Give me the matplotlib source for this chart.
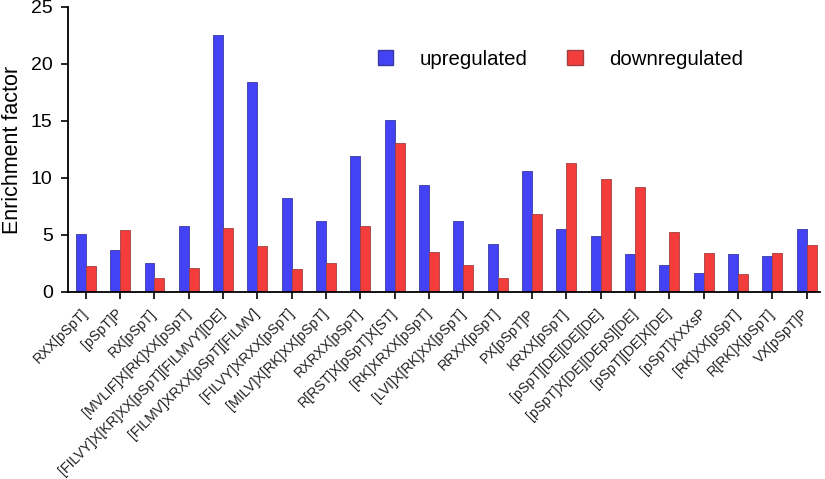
import matplotlib
matplotlib.use("Agg")
import matplotlib.pyplot as plt
import numpy as np
from matplotlib.patches import Patch

plt.rcParams['font.family'] = ['Liberation Sans', 'DejaVu Sans']

categories = [
    "RXX[pSpT]", "[pSpT]P", "RX[pSpT]", "[MVLIF]X[RK]XX[pSpT]",
    "[FILVY]X[KR]XX[pSpT][FILMVY][DE]", "[FILMV]XRXX[pSpT][FILMV]",
    "[FILVY]XRXX[pSpT]", "[MILV]X[RK]XX[pSpT]", "RXRXX[pSpT]",
    "R[RST]X[pSpT]X[ST]", "[RK]XRXX[pSpT]", "[LVI]X[RK]XX[pSpT]",
    "RRXX[pSpT]", "PX[pSpT]P", "KRXX[pSpT]", "[pSpT][DE][DE][DE]",
    "[pSpT]X[DE][DEpS][DE]", "[pSpT][DE]X[DE]", "[pSpT]XXXsP",
    "[RK]XX[pSpT]", "R[RK]X[pSpT]", "VX[pSpT]P",
]
upregulated = [5.1, 3.7, 2.5, 5.8, 22.5, 18.4, 8.25, 6.2, 11.9, 15.05, 9.35,
               6.2, 4.2, 10.6, 5.55, 4.9, 3.3, 2.35, 1.65, 3.35, 3.2, 5.5]
downregulated = [2.3, 5.45, 1.2, 2.1, 5.6, 4.0, 2.0, 2.55, 5.75, 13.1, 3.55,
                 2.35, 1.2, 6.85, 11.3, 9.9, 9.2, 5.3, 3.4, 1.6, 3.45, 4.1]

blue = "#4343F5"
red = "#F33D3D"

fig = plt.figure(figsize=(8.25, 4.79), dpi=100)
ax = fig.add_axes([0.0824, 0.3904, 0.912, 0.595])

x = np.arange(len(categories))
w = 0.29
ax.bar(x - w / 2, upregulated, width=w, color=blue, edgecolor="#3a3aa0", linewidth=0.6)
ax.bar(x + w / 2, downregulated, width=w, color=red, edgecolor="#a04040", linewidth=0.6)

ax.set_xlim(-0.52, 21.4)
ax.set_ylim(0, 25)
ax.set_yticks([0, 5, 10, 15, 20, 25])
ax.tick_params(axis='y', labelsize=14, length=5, width=1.2, pad=6)
ax.set_xticks(x)
ax.set_xticklabels(categories, rotation=45, ha='right', va='center',
                   rotation_mode='anchor', fontsize=10.1, color='#222222')
ax.tick_params(axis='x', length=5, width=1.2, pad=9)
for s in ['top', 'right']:
    ax.spines[s].set_visible(False)
for s in ['left', 'bottom']:
    ax.spines[s].set_linewidth(1.3)
ax.set_ylabel("Enrichment factor", fontsize=15.5, labelpad=6)

handles = [Patch(facecolor=blue, edgecolor="#3a3aa0", label="upregulated"),
           Patch(facecolor=red, edgecolor="#a04040", label="downregulated")]
ax.legend(handles=handles, loc='center left', bbox_to_anchor=(0.387, 0.8175), ncol=2,
          frameon=False, fontsize=14.7, handlelength=0.74, handleheight=0.74,
          columnspacing=1.96, handletextpad=1.32)

fig.savefig("out.png", dpi=100)
